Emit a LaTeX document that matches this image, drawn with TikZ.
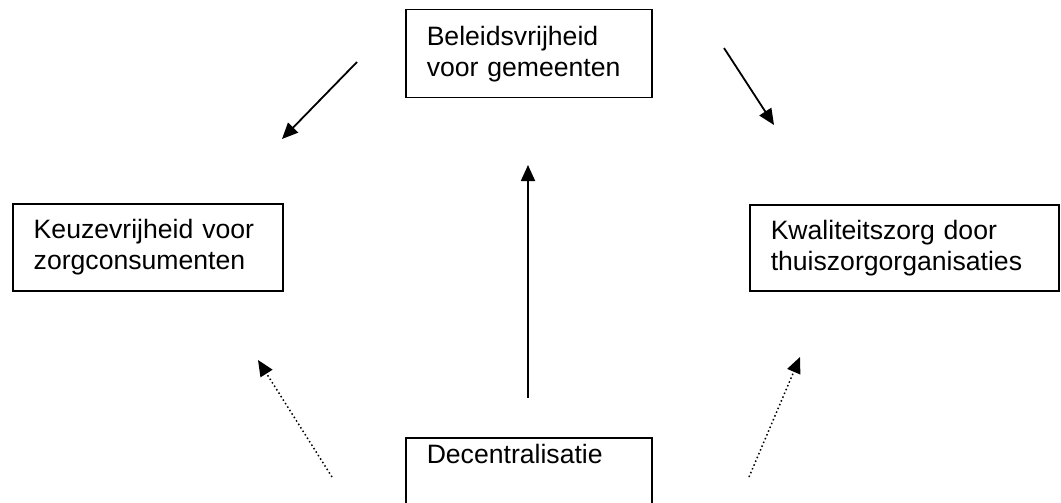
\documentclass[tikz,border=0pt]{standalone}
\usepackage{fontspec}
\setmainfont{Liberation Sans}
\usetikzlibrary{arrows.meta}

\tikzset{
    box/.style={draw, line width=1.5pt, anchor=north west, align=left,
        inner xsep=21pt, inner ysep=0pt,
        font=\fontsize{26.6}{31}\selectfont},
    pijl/.style={line width=1.8pt, -{Triangle[length=16pt,width=14pt]}},
    stippel/.style={line width=1.5pt, dash pattern=on 1.5pt off 2.6pt,
        -{Triangle[length=16pt,width=14pt]}}
}

\begin{document}
\begin{tikzpicture}[x=1pt, y=-1pt]
    \useasboundingbox (0, 0) rectangle (1061, 503);

    % Boxes
    \node[box, minimum width=246pt, minimum height=88pt, text width=204pt] (beleid) at (405, 9)
        {Beleidsvrijheid\\voor gemeenten};
    \node[box, minimum width=270pt, minimum height=87pt, text width=228pt] (keuze) at (12, 203)
        {Keuzevrijheid voor\\zorgconsumenten};
    \node[box, minimum width=309pt, minimum height=86pt, text width=267pt] (kwaliteit) at (749, 204)
        {Kwaliteitszorg door\\thuiszorgorganisaties};
    \node[box, minimum width=246pt, text width=204pt, text height=26pt, text depth=90pt] (decentr) at (405, 437)
        {Decentralisatie};

    % Arrow end points
    \coordinate (a1) at (357, 62);
    \coordinate (b1) at (282, 139);
    \coordinate (a2) at (724, 48);
    \coordinate (b2) at (774, 125);
    \coordinate (a3) at (528, 398);
    \coordinate (b3) at (528, 165);
    \coordinate (a4) at (332, 477);
    \coordinate (b4) at (258, 360);
    \coordinate (a5) at (749, 477);
    \coordinate (b5) at (800, 357);

    % Solid arrows
    \draw[pijl] (a1) -- (b1);
    \draw[pijl] (a2) -- (b2);
    \draw[pijl] (a3) -- (b3);

    % Dotted arrows
    \draw[stippel] (a4) -- (b4);
    \draw[stippel] (a5) -- (b5);
\end{tikzpicture}
\end{document}
